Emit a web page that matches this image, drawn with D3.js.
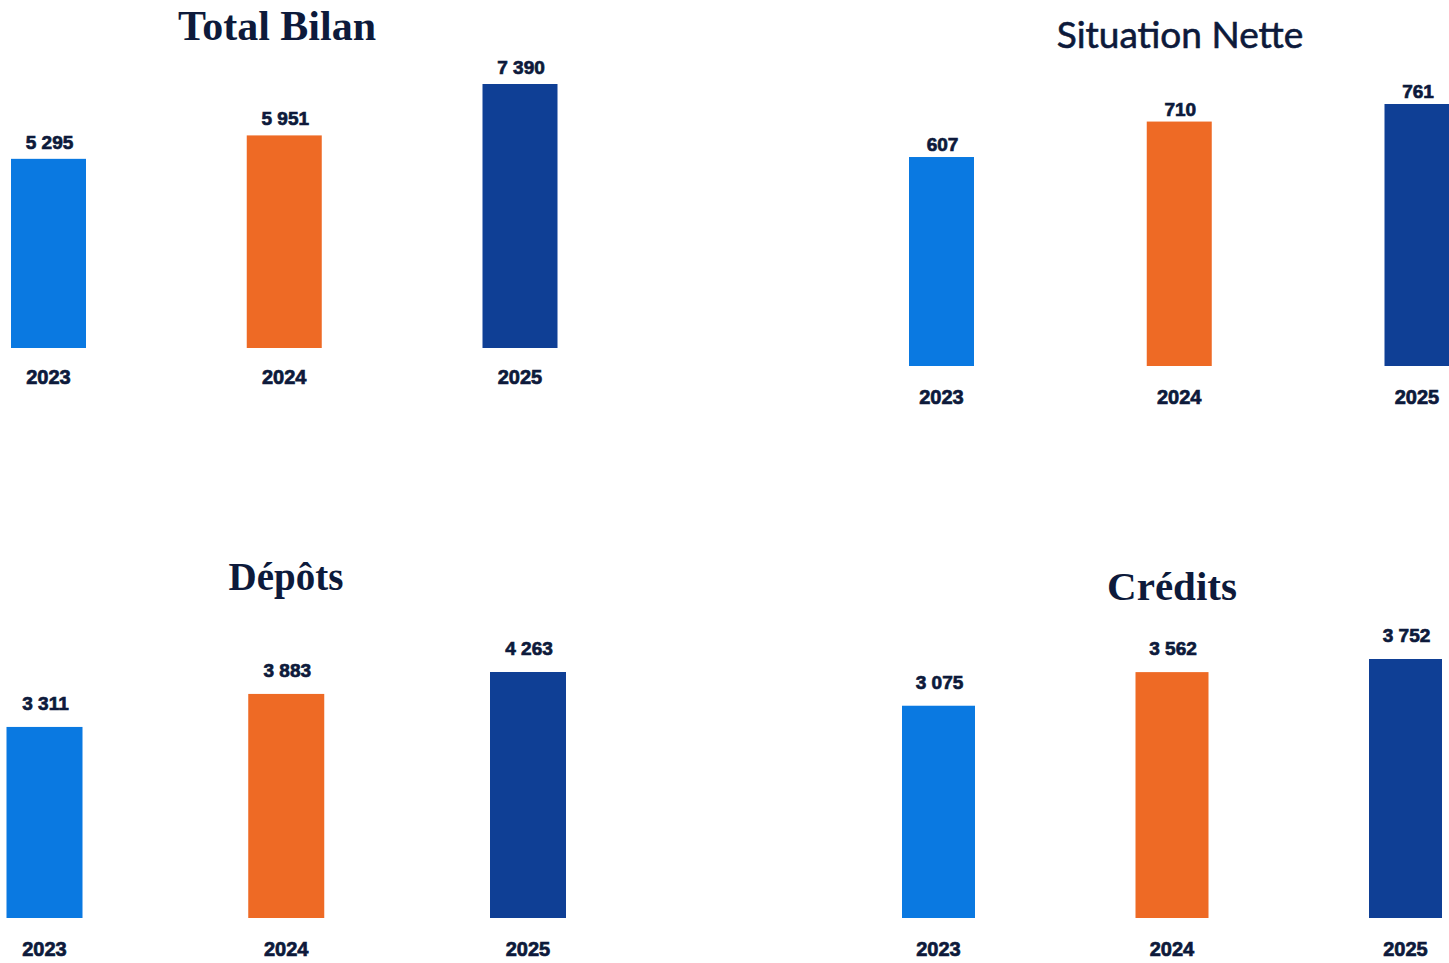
<!DOCTYPE html>
<html>
<head>
<meta charset="utf-8">
<script src="https://cdn.jsdelivr.net/npm/d3@7"></script>
<style>
  html, body { margin: 0; padding: 0; background: #ffffff; overflow: hidden; }
  svg { display: block; }
</style>
</head>
<body>
<svg id="chart" width="1449" height="963"></svg>
<script>
// ---- data ----
const years = ["2023", "2024", "2025"];
const totalBilan = [5295, 5951, 7390];
const situationNette = [607, 710, 761];
const depots = [3311, 3883, 4263];
const credits = [3075, 3562, 3752];
const titles = ["Total Bilan", "Situation Nette", "Dépôts", "Crédits"];
const barColors = ["#0a79e1", "#ee6a25", "#0f3f95"];

// ---- layout ----
const textColor = "#0d1a3b";
const panels = [
  { title: titles[0], values: totalBilan, xRange: [48.5, 520], bottom: 348, top: 84, barW: 75,
    titleX: 277, titleY: 40, titleFont: "'Liberation Serif', serif", titleSize: 42, titleWeight: 700,
    labelGap: 10, yearY: 384 },
  { title: titles[1], values: situationNette, xRange: [941.5, 1417], bottom: 366, top: 104, barW: 65,
    titleX: 1180, titleY: 48, titleFont: "Lato, sans-serif", titleSize: 37, titleWeight: 400,
    labelGap: 6, yearY: 404 },
  { title: titles[2], values: depots, xRange: [44.5, 528], bottom: 918, top: 672, barW: 76,
    titleX: 286, titleY: 590, titleFont: "'Liberation Serif', serif", titleSize: 39, titleWeight: 700,
    labelGap: 17, yearY: 956 },
  { title: titles[3], values: credits, xRange: [938.5, 1405.5], bottom: 918, top: 659, barW: 73,
    titleX: 1172, titleY: 600, titleFont: "'Liberation Serif', serif", titleSize: 41, titleWeight: 700,
    labelGap: 17, yearY: 956 }
];

const fmt = v => d3.format(",")(v).replace(/,/g, " ");
const svg = d3.select("#chart");

panels.forEach(p => {
  const g = svg.append("g");
  const x = d3.scalePoint().domain(years).range(p.xRange);
  const y = d3.scaleLinear().domain([0, d3.max(p.values)]).range([p.bottom, p.top]);
  const data = years.map((yr, i) => ({ year: yr, value: p.values[i], color: barColors[i] }));

  g.append("text")
    .attr("x", p.titleX).attr("y", p.titleY)
    .attr("text-anchor", "middle")
    .style("font-family", p.titleFont)
    .style("font-size", p.titleSize + "px")
    .style("font-weight", p.titleWeight)
    .style("fill", textColor)
    .style("stroke", p.titleWeight === 400 ? textColor : "none")
    .style("stroke-width", p.titleWeight === 400 ? 0.6 : 0)
    .text(p.title);

  g.selectAll("rect.bar").data(data).enter().append("rect")
    .attr("class", "bar")
    .attr("x", d => x(d.year) - p.barW / 2)
    .attr("width", p.barW)
    .attr("y", d => y(d.value))
    .attr("height", d => y(0) - y(d.value))
    .attr("fill", d => d.color);

  g.selectAll("text.val").data(data).enter().append("text")
    .attr("class", "val")
    .attr("x", d => x(d.year) + 1)
    .attr("y", d => y(d.value) - p.labelGap)
    .attr("text-anchor", "middle")
    .style("font-family", "'Liberation Sans', Arial, sans-serif")
    .style("font-weight", 700)
    .style("font-size", "19px")
    .style("fill", textColor)
    .style("stroke", textColor)
    .style("stroke-width", 0.7)
    .text(d => fmt(d.value));

  g.selectAll("text.year").data(data).enter().append("text")
    .attr("class", "year")
    .attr("x", d => x(d.year))
    .attr("y", p.yearY)
    .attr("text-anchor", "middle")
    .style("font-family", "'Liberation Sans', Arial, sans-serif")
    .style("font-weight", 700)
    .style("font-size", "20px")
    .style("fill", textColor)
    .style("stroke", textColor)
    .style("stroke-width", 0.7)
    .text(d => d.year);
});
</script>
</body>
</html>
